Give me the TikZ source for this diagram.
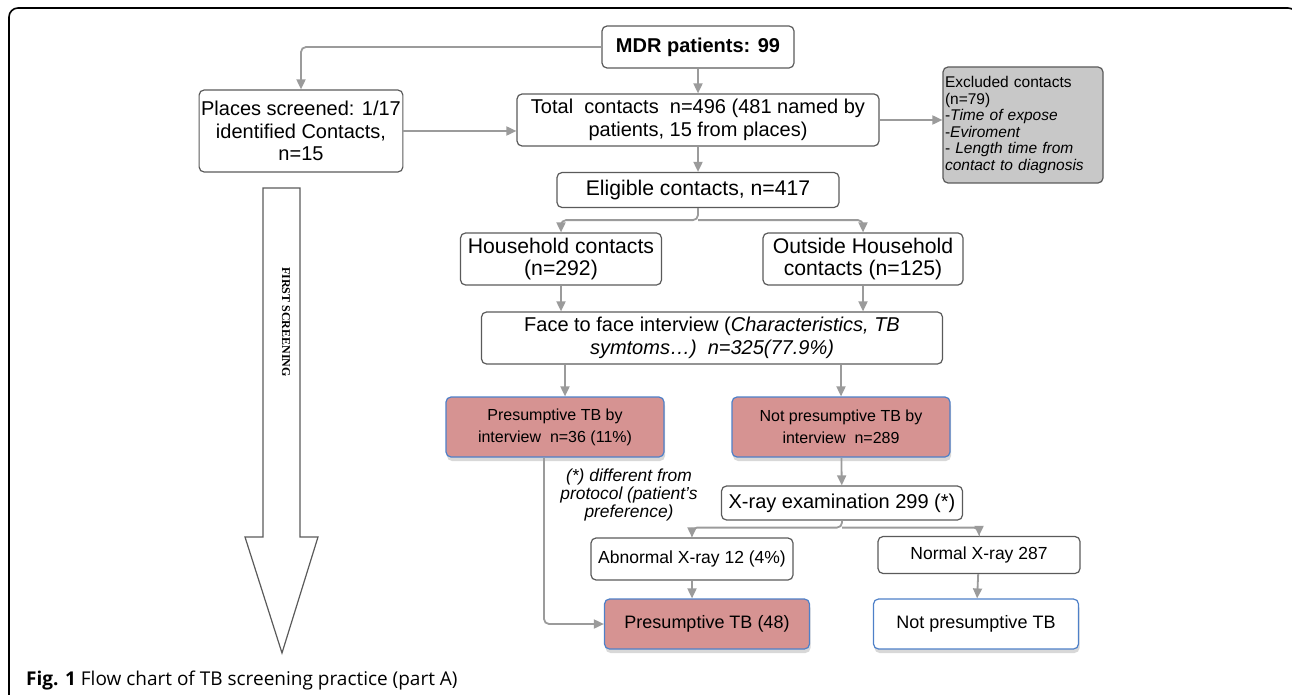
\documentclass[tikz,border=0pt]{standalone}
\usepackage{fontspec}
\setmainfont{Liberation Sans}
\newfontfamily\capfont{Open Sans}
\newfontfamily\arrowfont{Liberation Serif}
\usetikzlibrary{arrows.meta,shadows,calc}

\definecolor{boxgray}{RGB}{90,90,90}
\definecolor{linegray}{RGB}{155,155,155}
\definecolor{exclgray}{RGB}{200,200,200}
\definecolor{tbred}{RGB}{214,147,146}
\definecolor{tbblue}{RGB}{78,128,200}

\begin{document}
\begin{tikzpicture}[x=1pt,y=-1pt,
	flowbox/.style={draw=boxgray, line width=1.2pt, rounded corners=5pt,
		align=center, inner sep=2pt, font=\fontsize{20}{22.6}\selectfont},
	bigbox/.style={flowbox, font=\fontsize{21.2}{22.6}\selectfont},
	tbbox/.style={flowbox, draw=tbblue, fill=tbred,
		drop shadow={shadow xshift=1pt, shadow yshift=-4pt, fill=black!30}},
	link/.style={draw=linegray, line width=1.8pt, rounded corners=5pt,
		-{Triangle[length=10pt,width=9pt]}}]

		\useasboundingbox (0,0) rectangle (1292,695);
		\draw[line width=1.6pt, rounded corners=9pt] (9,710) -- (9,8) -- (1297,8) -- (1297,40);

		% top part
		\node[flowbox, minimum width=192pt, minimum height=42pt,
			font=\fontsize{20}{22.6}\selectfont\bfseries] (mdr) at (698,47) {MDR patients: 99};

		\node[flowbox, minimum width=202pt, minimum height=82pt] (places) at (301,131)
			{Places screened: 1/17\\identified Contacts,\\n=15};

		\node[flowbox, minimum width=362pt, minimum height=52pt] (total) at (698,120)
			{Total\ \ contacts\ \ n=496 (481 named by\\patients, 15 from places)};

		\node[flowbox, fill=exclgray, align=left, text width=156pt,
			minimum width=160pt, minimum height=116pt, inner xsep=1pt,
			font=\fontsize{15.5}{16.5}\selectfont] (excl) at (1023,125)
			{Excluded contacts\\(n=79)\\-\textit{Time of expose}\\-\textit{Eviroment}\\
			- \textit{Length time from}\\\textit{contact to diagnosis}};

		\node[bigbox, minimum width=282pt, minimum height=35pt] (elig) at (698,190)
			{Eligible contacts, n=417};

		\node[bigbox, minimum width=201pt, minimum height=52pt] (house) at (561,259)
			{Household contacts\\(n=292)};

		\node[bigbox, minimum width=200pt, minimum height=52pt] (outside) at (863,259)
			{Outside Household\\contacts (n=125)};

		\node[flowbox, minimum width=461pt, minimum height=52pt] (face) at (712,338)
			{Face to face interview (\textit{Characteristics, TB}\\\textit{symtoms\dots)\ \ n=325(77.9\%)}};

		% interview results
		\node[tbbox, minimum width=218pt, minimum height=60pt,
			font=\fontsize{16}{22}\selectfont] (pint) at (555,427)
			{Presumptive TB by\\interview\ \ n=36 (11\%)};

		\node[tbbox, minimum width=218pt, minimum height=60pt,
			font=\fontsize{16}{22}\selectfont] (npint) at (841,427)
			{Not presumptive TB by\\interview\ \ n=289};

		\node[align=center, font=\fontsize{17.4}{17.6}\selectfont\itshape] (note) at (629,495)
			{(*) different from\\protocol (patient's\\preference)};

		\node[flowbox, minimum width=241pt, minimum height=34pt] (xray) at (842,503)
			{X-ray examination 299 (*)};

		\node[flowbox, minimum width=202pt, minimum height=42pt,
			font=\fontsize{17.5}{20}\selectfont] (abn) at (692,559) {Abnormal X-ray 12 (4\%)};

		\node[flowbox, minimum width=202pt, minimum height=37pt,
			font=\fontsize{17.5}{20}\selectfont] (normal) at (979,555) {Normal X-ray 287};

		\node[tbbox, minimum width=205pt, minimum height=50pt,
			font=\fontsize{18}{21}\selectfont] (p48) at (707,624) {Presumptive TB (48)};

		\node[tbbox, fill=white, minimum width=205pt, minimum height=50pt,
			font=\fontsize{18}{21}\selectfont] (np) at (976,624) {Not presumptive TB};

		% first screening arrow
		\draw[draw=boxgray, line width=1.2pt] (263,188) -- (300,188) -- (300,537) -- (318,537)
			-- (282,653) -- (245,537) -- (263,537) -- cycle;
		\node[rotate=-90, font=\arrowfont\fontsize{12}{14}\selectfont\bfseries] (first) at (286,322)
			{FIRST SCREENING};

		\node[anchor=base west, inner sep=0pt, font=\capfont\fontsize{19}{22}\selectfont] (caption)
			at (26,685) {\textbf{Fig. 1} Flow chart of TB screening practice (part A)};

		% connectors
		\coordinate (ebr) at ($(elig.south)+(0,12)$);
		\coordinate (xbr) at ($(xray.south)+(0,7)$);
		\draw[link] (mdr.west) -| (places.north);
		\draw[link] (mdr) -- (total);
		\draw[link] (places.east) -- (places.east -| total.west);
		\draw[link] (total.east) -- (total.east -| excl.west);
		\draw[link] (total) -- (elig);
		\draw[link] (elig.south) -- (ebr) -| (house.north);
		\draw[link] (ebr) -| (outside.north);
		\draw[link] (house) -- (house |- face.north);
		\draw[link] (outside) -- (outside |- face.north);
		\draw[link] ([xshift=10pt]pint.north |- face.south) -- ([xshift=10pt]pint.north);
		\draw[link] (npint.north |- face.south) -- (npint.north);
		\draw[link] (npint) -- (xray);
		\draw[link] (xray.south) -- (xbr) -| (abn.north);
		\draw[link] (xbr) -| (normal.north);
		\draw[link] (abn.south) -- (abn.south |- p48.north);
		\draw[link] (normal) -- (np);
		\draw[link] ([xshift=-11pt]pint.south) |- (p48.west);

	\end{tikzpicture}
\end{document}
